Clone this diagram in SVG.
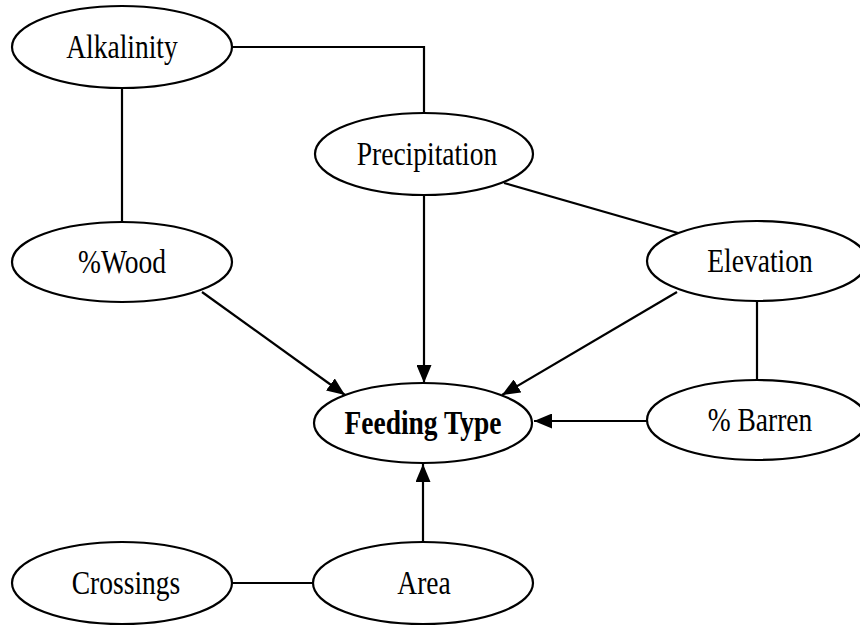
<svg xmlns="http://www.w3.org/2000/svg" width="860" height="626" viewBox="0 0 860 626">
<style>
.node ellipse{fill:#fff;stroke:#000;stroke-width:2.2}
.node text{font-family:"Liberation Serif","Times New Roman",serif;font-size:27.5px;fill:#000;text-anchor:middle}
.node text.b{font-weight:bold}
.edge{fill:none;stroke:#000;stroke-width:2.2}
</style>
<defs>
<marker id="ah" markerWidth="18" markerHeight="15" refX="18" refY="7.5" orient="auto" markerUnits="userSpaceOnUse">
<path d="M0,0 L18,7.5 L0,15 Z" fill="#000"/>
</marker>
</defs>
<rect width="860" height="626" fill="#fff"/>
<g id="connectors">
<polyline class="edge" points="232,47 424,47 424,113"/>
<line class="edge" x1="122" y1="88" x2="122" y2="222"/>
<line class="edge" x1="424" y1="195" x2="424" y2="383" marker-end="url(#ah)"/>
<line class="edge" x1="504" y1="183" x2="678" y2="233"/>
<line class="edge" x1="202" y1="292" x2="345" y2="395" marker-end="url(#ah)"/>
<line class="edge" x1="677" y1="292" x2="502" y2="395" marker-end="url(#ah)"/>
<line class="edge" x1="647" y1="421" x2="534" y2="421" marker-end="url(#ah)"/>
<line class="edge" x1="757" y1="301" x2="757" y2="380"/>
<line class="edge" x1="423" y1="542" x2="423" y2="464" marker-end="url(#ah)"/>
<line class="edge" x1="232" y1="583" x2="313" y2="583"/>
</g>
<g id="alkalinity" class="node"><ellipse cx="122" cy="47" rx="110" ry="41"/><text transform="translate(122,58) scale(1,1.2)">Alkalinity</text></g>
<g id="precipitation" class="node"><ellipse cx="424" cy="154" rx="109" ry="41"/><text transform="translate(427,165) scale(1,1.2)">Precipitation</text></g>
<g id="wood" class="node"><ellipse cx="122" cy="262" rx="110" ry="40"/><text transform="translate(122,273) scale(1,1.2)">%Wood</text></g>
<g id="elevation" class="node"><ellipse cx="757" cy="261" rx="110" ry="40"/><text transform="translate(760,272) scale(1,1.2)">Elevation</text></g>
<g id="feeding" class="node"><ellipse cx="423" cy="423" rx="109" ry="40"/><text class="b" transform="translate(423,434) scale(1,1.2)">Feeding Type</text></g>
<g id="barren" class="node"><ellipse cx="757" cy="420" rx="110" ry="40"/><text transform="translate(760,431) scale(1,1.2)">% Barren</text></g>
<g id="crossings" class="node"><ellipse cx="122" cy="583" rx="110" ry="41"/><text transform="translate(126,594) scale(1,1.2)">Crossings</text></g>
<g id="area" class="node"><ellipse cx="423" cy="583" rx="110" ry="41"/><text transform="translate(424,594) scale(1,1.2)">Area</text></g>
</svg>
